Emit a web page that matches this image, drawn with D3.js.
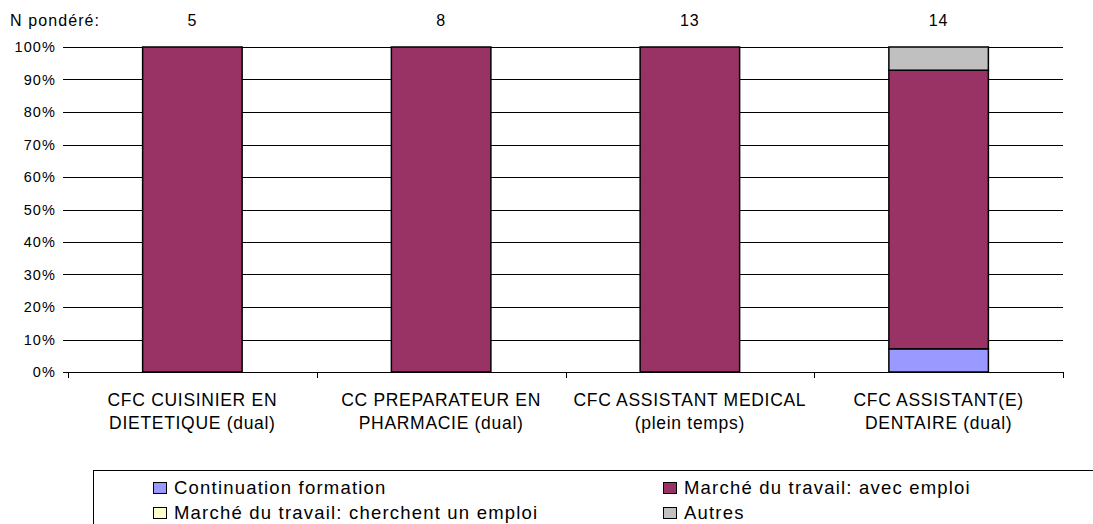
<!DOCTYPE html>
<html>
<head>
<meta charset="utf-8">
<script src="https://cdn.jsdelivr.net/npm/d3@7"></script>
<style>
  body { margin: 0; background: #fff; }
  svg { font-family: "Liberation Sans", Arial, sans-serif; }
  .tick-label { font-size: 14.5px; letter-spacing: 1.1px; }
  .cat-label { font-size: 17.5px; letter-spacing: 0.7px; }
  .n-label { font-size: 16px; letter-spacing: 1.1px; }
  .legend-text { font-size: 18.5px; letter-spacing: 1.2px; }
</style>
</head>
<body>
<div id="chart"></div>
<script>
// Categories (two-line labels) and weighted N
const categories = ["CFC CUISINIER EN DIETETIQUE (dual)", "CC PREPARATEUR EN PHARMACIE (dual)",
    "CFC ASSISTANT MEDICAL (plein temps)", "CFC ASSISTANT(E) DENTAIRE (dual)"];
const catLines = [
    ["CFC CUISINIER EN", "DIETETIQUE (dual)"],
    ["CC PREPARATEUR EN", "PHARMACIE (dual)"],
    ["CFC ASSISTANT MEDICAL", "(plein temps)"],
    ["CFC ASSISTANT(E)", "DENTAIRE (dual)"]
];
const nPondere = [5, 8, 13, 14];

// Series values (percent)
const seriesNames = ["Continuation formation", "Marché du travail: avec emploi",
    "Marché du travail: cherchent un emploi", "Autres"];
const continuation = [0, 0, 0, 7.14];
const avecEmploi = [100, 100, 100, 85.72];
const cherchent = [0, 0, 0, 0];
const autres = [0, 0, 0, 7.14];
const seriesColors = ["#9999FF", "#993366", "#FFFFCC", "#C0C0C0"];

const yTicks = [0, 10, 20, 30, 40, 50, 60, 70, 80, 90, 100];

function createChart() {
    const W = 1093, H = 524;
    const margin = { top: 47, right: 30, bottom: 152, left: 68 };
    const width = W - margin.left - margin.right;
    const height = H - margin.top - margin.bottom;

    const svg = d3.select("#chart").append("svg")
        .attr("width", W)
        .attr("height", H);

    const g = svg.append("g")
        .attr("transform", `translate(${margin.left},${margin.top})`);

    const table = categories.map((c, i) => ({
        cat: c,
        [seriesNames[0]]: continuation[i],
        [seriesNames[1]]: avecEmploi[i],
        [seriesNames[2]]: cherchent[i],
        [seriesNames[3]]: autres[i]
    }));

    const x = d3.scaleBand().domain(categories).range([0, width]).padding(0);
    const y = d3.scaleLinear().domain([0, 100]).range([height, 0]);
    const color = d3.scaleOrdinal().domain(seriesNames).range(seriesColors);

    // Gridlines + y labels
    g.selectAll(".grid")
        .data(yTicks)
        .enter().append("line")
        .attr("x1", -5)
        .attr("x2", width)
        .attr("y1", d => Math.round(y(d)) + 0.5)
        .attr("y2", d => Math.round(y(d)) + 0.5)
        .attr("stroke", "#000")
        .attr("stroke-width", 1);

    g.selectAll(".tick-label")
        .data(yTicks)
        .enter().append("text")
        .attr("class", "tick-label")
        .attr("x", -12)
        .attr("y", d => y(d))
        .attr("dy", "0.36em")
        .attr("text-anchor", "end")
        .text(d => d + "%");

    // Stacked bars
    const stack = d3.stack().keys(seriesNames);
    const barW = x.bandwidth() * 0.4;
    const layers = g.selectAll(".layer")
        .data(stack(table))
        .enter().append("g")
        .attr("fill", d => color(d.key));

    layers.selectAll("rect")
        .data(d => d.filter(s => s[1] - s[0] > 0))
        .enter().append("rect")
        .attr("x", d => x(d.data.cat) + (x.bandwidth() - barW) / 2)
        .attr("y", d => y(d[1]))
        .attr("width", barW)
        .attr("height", d => y(d[0]) - y(d[1]))
        .attr("stroke", "#000")
        .attr("stroke-width", 1.5);

    // X axis
    g.append("line")
        .attr("x1", 0).attr("x2", width)
        .attr("y1", height + 0.5).attr("y2", height + 0.5)
        .attr("stroke", "#000");

    const bounds = categories.map(c => x(c)).concat([width]);
    g.selectAll(".xtick")
        .data(bounds)
        .enter().append("line")
        .attr("x1", d => Math.round(d) + 0.5).attr("x2", d => Math.round(d) + 0.5)
        .attr("y1", height).attr("y2", height + 6)
        .attr("stroke", "#000");

    const catG = g.selectAll(".cat")
        .data(categories)
        .enter().append("text")
        .attr("class", "cat-label")
        .attr("text-anchor", "middle")
        .attr("x", d => x(d) + x.bandwidth() / 2)
        .attr("y", height + 34);
    catG.selectAll("tspan")
        .data((d, i) => catLines[i])
        .enter().append("tspan")
        .attr("x", function() { return d3.select(this.parentNode).attr("x"); })
        .attr("dy", (d, i) => i === 0 ? 0 : 23)
        .text(d => d);

    // N pondéré row
    svg.append("text")
        .attr("class", "n-label")
        .attr("x", 10)
        .attr("y", 26)
        .text("N pondéré:");

    g.selectAll(".n")
        .data(categories)
        .enter().append("text")
        .attr("class", "n-label")
        .attr("text-anchor", "middle")
        .attr("x", d => x(d) + x.bandwidth() / 2)
        .attr("y", 26 - margin.top)
        .text((d, i) => nPondere[i]);

    // Legend
    svg.append("rect")
        .attr("x", 93.5).attr("y", 470.5)
        .attr("width", 1000).attr("height", 80)
        .attr("fill", "none")
        .attr("stroke", "#000");

    const legendPos = [[153, 482], [663, 482], [153, 507], [663, 507]];
    const legend = svg.selectAll(".legend")
        .data(seriesNames)
        .enter().append("g")
        .attr("transform", (d, i) => `translate(${legendPos[i][0]},${legendPos[i][1]})`);

    legend.append("rect")
        .attr("x", 0.5).attr("y", 0.5)
        .attr("width", 13).attr("height", 11)
        .attr("fill", d => color(d))
        .attr("stroke", "#000");

    legend.append("text")
        .attr("class", "legend-text")
        .attr("x", 21)
        .attr("y", 12)
        .text(d => d);
}

createChart();
</script>
</body>
</html>
